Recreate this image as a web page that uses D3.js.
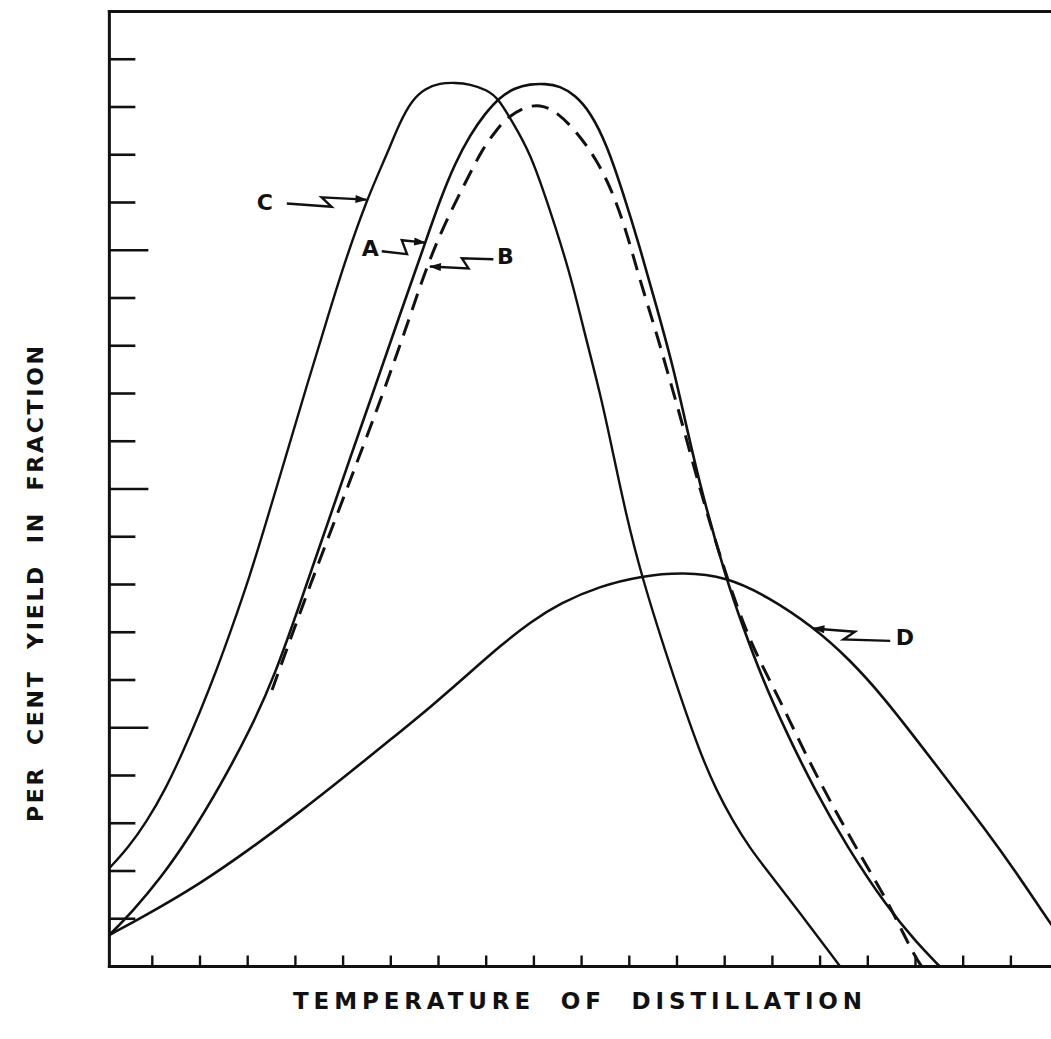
<!DOCTYPE html>
<html>
<head>
<meta charset="utf-8">
<script src="https://cdn.jsdelivr.net/npm/d3@7"></script>
<style>
  html, body { margin: 0; padding: 0; background: #fff; }
  svg { display: block; }
</style>
</head>
<body>
<div id="chart"></div>
<script>
// ---------------- data (chart units: x = temperature divisions, y = per cent divisions) ----------------
const curveNames = ["A", "B", "C", "D"];

const curveC_x = [0.1, 0.49, 0.88, 1.27, 1.64, 2.0, 2.35, 2.69, 3.05, 3.32, 3.82, 4.24, 4.66, 5.0, 5.49, 5.91, 6.19, 6.44, 6.72, 7.03, 7.35, 7.66, 8.01, 8.25, 8.56, 8.92, 9.27, 9.76, 10.03, 10.39, 10.66, 10.91, 11.26, 11.78, 12.13, 12.48, 12.82, 13.18, 13.53, 13.88, 14.58, 15.42];
const curveC_y = [2.06, 2.48, 3.03, 3.7, 4.49, 5.33, 6.21, 7.15, 8.2, 9.08, 10.75, 12.17, 13.54, 14.65, 16.05, 16.99, 17.68, 18.14, 18.39, 18.5, 18.51, 18.48, 18.36, 18.19, 17.67, 17.04, 16.05, 14.52, 13.39, 12.01, 10.75, 9.56, 8.16, 6.52, 5.48, 4.49, 3.7, 3.03, 2.48, 2.02, 1.12, 0.0];

const curveA_x = [0.1, 0.59, 1.16, 1.79, 2.42, 3.05, 3.57, 4.1, 4.62, 5.14, 5.67, 6.19, 6.72, 7.03, 7.35, 7.66, 7.98, 8.29, 8.6, 8.92, 9.23, 9.55, 9.86, 10.18, 10.53, 10.87, 11.22, 11.57, 11.92, 12.2, 12.52, 13.04, 13.38, 13.8, 14.3, 14.85, 15.56, 16.4, 17.03, 17.51];
const curveA_y = [0.66, 1.16, 1.83, 2.73, 3.78, 4.95, 6.1, 7.61, 9.12, 10.63, 12.14, 13.65, 15.15, 16.05, 16.83, 17.41, 17.87, 18.21, 18.4, 18.48, 18.49, 18.44, 18.25, 17.9, 17.21, 16.2, 15.07, 13.82, 12.56, 11.3, 9.92, 8.09, 7.12, 6.0, 4.89, 3.77, 2.51, 1.25, 0.49, 0.0];

const curveB_x = [3.51, 3.89, 4.31, 4.83, 5.35, 5.84, 6.33, 6.61, 6.89, 7.24, 7.59, 7.93, 8.22, 8.43, 8.77, 9.13, 9.48, 9.9, 10.32, 10.66, 10.95, 11.22, 11.57, 11.85, 12.13, 12.41, 12.69, 12.97, 13.24, 13.59, 14.16, 14.72, 15.27, 15.9, 16.4, 16.74, 16.99, 17.13];
const curveB_y = [5.79, 6.84, 7.99, 9.35, 10.71, 12.01, 13.4, 14.24, 15.0, 15.78, 16.47, 17.14, 17.52, 17.77, 17.99, 18.06, 17.9, 17.48, 16.89, 16.2, 15.36, 14.38, 13.27, 12.28, 11.3, 10.26, 9.29, 8.39, 7.59, 6.67, 5.58, 4.39, 3.35, 2.23, 1.39, 0.7, 0.21, 0.0];

const curveD_x = [0.1, 0.81, 2.0, 3.05, 4.1, 5.0, 5.98, 6.89, 7.72, 8.29, 8.92, 9.55, 10.39, 11.26, 12.13, 13.04, 13.88, 14.85, 15.63, 16.32, 17.03, 17.72, 18.42, 19.12, 19.82, 20.1];
const curveD_y = [0.66, 1.04, 1.73, 2.46, 3.24, 3.95, 4.74, 5.48, 6.21, 6.71, 7.21, 7.61, 7.97, 8.18, 8.26, 8.16, 7.76, 7.12, 6.42, 5.65, 4.74, 3.84, 2.93, 1.96, 0.91, 0.53];

const xTickValues = [1, 2, 3, 4, 5, 6, 7, 8, 9, 10, 11, 12, 13, 14, 15, 16, 17, 18, 19];
const yTickValues = [1, 2, 3, 4, 5, 6, 7, 8, 9, 10, 11, 12, 13, 14, 15, 16, 17, 18, 19];
const xTitle = "TEMPERATURE OF DISTILLATION";
const yTitle = "PER CENT YIELD IN FRACTION";

// annotation leaders (label, label position, zig-zag leader points, arrow tip) in chart units
const annLabels = ["C", "A", "B", "D"];
const annLabelPos = [[3.36, 16.0], [5.57, 15.03], [8.4, 14.86], [16.78, 6.9]];
const annLeaders = [
  [[3.82, 15.98], [4.76, 15.91], [4.55, 16.11], [5.49, 16.06]],
  [[5.81, 14.98], [6.34, 14.92], [6.23, 15.21], [6.72, 15.16]],
  [[8.15, 14.81], [7.49, 14.83], [7.63, 14.62], [6.82, 14.66]],
  [[16.47, 6.82], [15.49, 6.85], [15.73, 7.01], [14.86, 7.08]]
];

// ---------------- layout ----------------
const W = 1051, H = 1039;
const svg = d3.select("#chart").append("svg").attr("width", W).attr("height", H);

const x = d3.scaleLinear().domain([0, 20]).range([104.6, 1058.6]);
const y = d3.scaleLinear().domain([0, 20]).range([966.5, 11.5]);

const ink = "#111";
const x0 = 0.1;
const font = "'DejaVu Sans', Verdana, sans-serif";

const defs = svg.append("defs");
defs.append("clipPath").attr("id", "plotclip")
  .append("rect").attr("x", x(x0)).attr("y", y(20)).attr("width", x(20) - x(x0)).attr("height", y(0) - y(20) + 2);

defs.append("marker")
  .attr("id", "arrow").attr("viewBox", "0 0 12 8").attr("refX", 11).attr("refY", 4)
  .attr("markerWidth", 13).attr("markerHeight", 8).attr("markerUnits", "userSpaceOnUse")
  .attr("orient", "auto")
  .append("path").attr("d", "M0,0 L12,4 L0,8 Z").attr("fill", ink);

// frame
const frame = svg.append("g").attr("stroke", ink).attr("stroke-width", 3).attr("fill", "none").attr("stroke-linecap", "square");
frame.append("line").attr("x1", x(x0)).attr("x2", x(x0)).attr("y1", y(20)).attr("y2", y(0));
frame.append("line").attr("x1", x(x0)).attr("x2", x(20)).attr("y1", y(0)).attr("y2", y(0));
frame.append("line").attr("x1", x(x0)).attr("x2", x(20)).attr("y1", y(20)).attr("y2", y(20));
frame.append("line").attr("x1", x(20)).attr("x2", x(20)).attr("y1", y(20)).attr("y2", y(0));

// y ticks (pointing inward from the left axis; every fifth one longer)
svg.append("g").selectAll("line").data(yTickValues).join("line")
  .attr("x1", x(x0)).attr("x2", d => x(x0) + (d % 5 === 0 ? 39 : 26))
  .attr("y1", d => y(d)).attr("y2", d => y(d))
  .attr("stroke", ink).attr("stroke-width", 2.6);

// x ticks (pointing up from the bottom axis)
svg.append("g").selectAll("line").data(xTickValues).join("line")
  .attr("x1", d => x(d)).attr("x2", d => x(d))
  .attr("y1", y(0)).attr("y2", y(0) - 11)
  .attr("stroke", ink).attr("stroke-width", 2.4);

// curves
const line = d3.line().x(d => x(d[0])).y(d => y(d[1])).curve(d3.curveBasis);
const zip = (xs, ys) => xs.map((v, i) => [v, ys[i]]);
const curves = [
  { name: "A", pts: zip(curveA_x, curveA_y), dash: null, w: 2.6 },
  { name: "B", pts: zip(curveB_x, curveB_y), dash: "17,10", w: 3.0 },
  { name: "C", pts: zip(curveC_x, curveC_y), dash: null, w: 2.4 },
  { name: "D", pts: zip(curveD_x, curveD_y), dash: null, w: 2.6 }
];
svg.append("g").attr("clip-path", "url(#plotclip)")
  .selectAll("path").data(curves).join("path")
  .attr("d", d => line(d.pts))
  .attr("fill", "none").attr("stroke", ink)
  .attr("stroke-width", d => d.w)
  .attr("stroke-dasharray", d => d.dash)
  .attr("stroke-linejoin", "round");

// annotations
const leaderLine = d3.line().x(d => x(d[0])).y(d => y(d[1]));
const ann = svg.append("g");
annLabels.forEach((lab, i) => {
  ann.append("path").attr("d", leaderLine(annLeaders[i]))
    .attr("fill", "none").attr("stroke", ink).attr("stroke-width", 2.4)
    .attr("stroke-linejoin", "miter").attr("marker-end", "url(#arrow)");
  ann.append("text").attr("x", x(annLabelPos[i][0])).attr("y", y(annLabelPos[i][1]))
    .attr("text-anchor", "middle").attr("dominant-baseline", "central")
    .attr("font-family", font).attr("font-weight", "bold")
    .attr("font-size", 22).attr("fill", ink).text(lab);
});

// axis titles
svg.append("text").attr("x", 293).attr("y", 1009)
  .attr("textLength", 569).attr("lengthAdjust", "spacing")
  .attr("font-family", font).attr("font-weight", "bold")
  .attr("font-size", 23).attr("fill", ink).text(xTitle.replace(/ /g, "\u00a0\u00a0"));

svg.append("text").attr("transform", "translate(43,822) rotate(-90)")
  .attr("textLength", 476).attr("lengthAdjust", "spacing")
  .attr("font-family", font).attr("font-weight", "bold")
  .attr("font-size", 22).attr("fill", ink).text(yTitle.replace(/ /g, "\u00a0\u00a0"));
</script>
</body>
</html>
